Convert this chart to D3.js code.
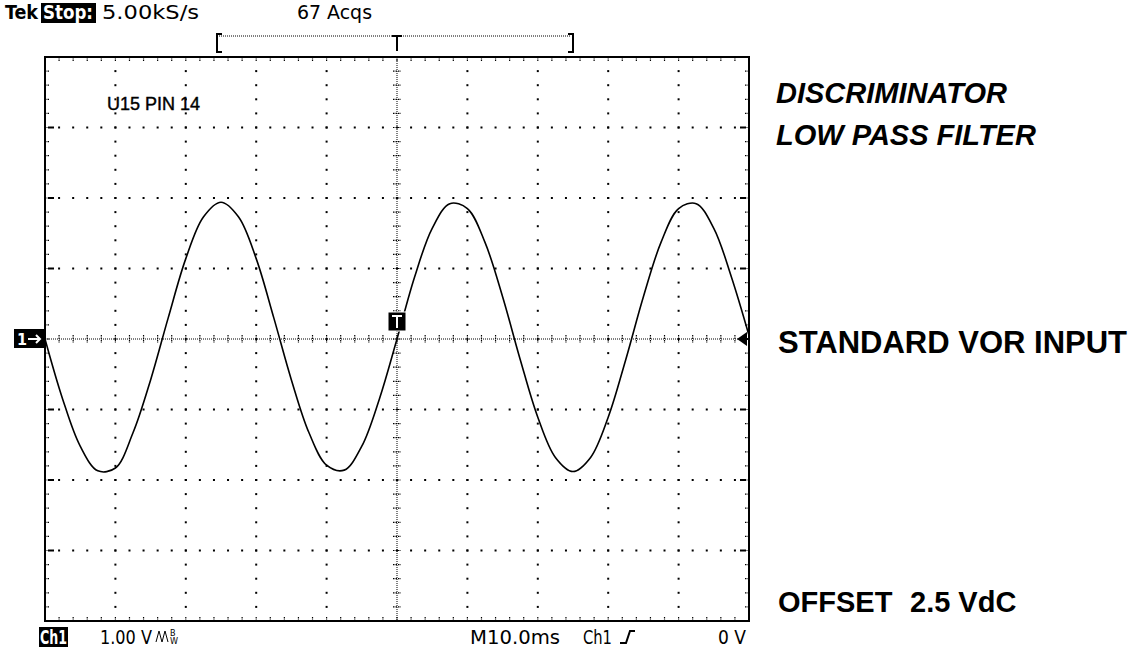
<!DOCTYPE html>
<html>
<head>
<meta charset="utf-8">
<script src="https://cdn.jsdelivr.net/npm/d3@7"></script>
<style>
  html, body { margin: 0; padding: 0; background: #fff; }
  svg { display: block; }
</style>
</head>
<body>
<svg id="chart" width="1138" height="647"></svg>
<script>
// ---- data ----
const timeMs = [-50,-47.5,-45,-42.5,-40,-37.5,-35,-32.5,-30,-27.5,-25,-22.5,-20,-17.5,-15,-12.5,-10,-7.5,-5,-2.5,
                0,2.5,5,7.5,10,12.5,15,17.5,20,22.5,25,27.5,30,32.5,35,37.5,40,42.5,45,47.5,50];
const volts  = [0.00,-0.85,-1.52,-1.87,-1.83,-1.33,-0.58,0.30,1.14,1.73,1.94,1.73,1.14,0.30,-0.58,-1.33,-1.79,-1.86,-1.52,-0.85,
                0.00,0.88,1.57,1.92,1.85,1.37,0.60,-0.29,-1.11,-1.68,-1.88,-1.68,-1.11,-0.29,0.60,1.37,1.85,1.92,1.57,0.88,0.05];
const xDivisions = [-50,-40,-30,-20,-10,0,10,20,30,40,50];   // ms, 10 ms/div
const yDivisions = [-4,-3,-2,-1,0,1,2,3,4];                   // V, 1 V/div
const headerLeft = ["Tek", "Stop:", "5.00kS/s"];
const headerMid = "67 Acqs";
const footerLabels = ["Ch1", "1.00 V", "M10.0ms", "Ch1", "0 V"];
const probeLabel = "U15 PIN 14";
const titleLines = ["DISCRIMINATOR", "LOW PASS FILTER"];
const inputLabel = "STANDARD VOR INPUT";
const offsetLabel = ["OFFSET", "2.5 VdC"];

// ---- layout ----
const svg = d3.select("#chart");
const L = 45, R = 749, T = 57, B = 621;
const x = d3.scaleLinear().domain([-50, 50]).range([L, R]);
const y = d3.scaleLinear().domain([-4, 4]).range([B, T]);
const scopeFont = "'DejaVu Sans Condensed','DejaVu Sans','Liberation Sans Narrow',sans-serif";
const boldFont = "'Liberation Sans',Arial,Helvetica,sans-serif";

const minorX = d3.range(-50, 50.001, 2);
const minorY = d3.range(-4, 4.001, 0.2);

function scopeText(tx, ty, str, len, opts = {}) {
  return svg.append("text").attr("x", tx).attr("y", ty).attr("font-family", scopeFont)
    .attr("font-size", opts.size || 19).attr("fill", opts.fill || "#000")
    .attr("font-weight", opts.weight || "normal")
    .attr("textLength", len).attr("lengthAdjust", "spacingAndGlyphs").text(str);
}

const grid = svg.append("g");
xDivisions.slice(1, -1).forEach(v => {
  if (v === 0) return;
  grid.selectAll(null).data(minorY).enter().append("rect")
    .attr("x", x(v) - 1).attr("y", d => y(d) - 1).attr("width", 2).attr("height", 2).attr("fill", "#000");
});
yDivisions.slice(1, -1).forEach(v => {
  if (v === 0) return;
  grid.selectAll(null).data(minorX).enter().append("rect")
    .attr("x", d => x(d) - 1).attr("y", y(v) - 1).attr("width", 2).attr("height", 2).attr("fill", "#000");
  grid.append("rect").attr("x", L + 3).attr("y", y(v) - 1).attr("width", 6).attr("height", 2).attr("fill", "#000");
  grid.append("rect").attr("x", R - 9).attr("y", y(v) - 1).attr("width", 6).attr("height", 2).attr("fill", "#000");
});

// center crosshair
grid.append("line").attr("x1", L).attr("x2", R).attr("y1", y(0)).attr("y2", y(0))
  .attr("stroke", "#000").attr("stroke-width", 1).attr("stroke-dasharray", "1,1");
grid.append("line").attr("x1", x(0)).attr("x2", x(0)).attr("y1", T).attr("y2", B)
  .attr("stroke", "#000").attr("stroke-width", 1).attr("stroke-dasharray", "1,1");
grid.selectAll(null).data(minorX).enter().append("line")
  .attr("x1", d => x(d)).attr("x2", d => x(d)).attr("y1", y(0) - 4).attr("y2", y(0) + 4)
  .attr("stroke", "#000").attr("stroke-width", 1.2).attr("stroke-dasharray", "1.5,1");
grid.selectAll(null).data(minorY).enter().append("line")
  .attr("y1", d => y(d)).attr("y2", d => y(d)).attr("x1", x(0) - 4).attr("x2", x(0) + 4)
  .attr("stroke", "#000").attr("stroke-width", 1.2).attr("stroke-dasharray", "1.5,1");

// border ticks
grid.selectAll(null).data(minorX).enter().append("line")
  .attr("x1", d => x(d)).attr("x2", d => x(d)).attr("y1", T).attr("y2", T + 5)
  .attr("stroke", "#000").attr("stroke-width", 1.2).attr("stroke-dasharray", "1.5,1");
grid.selectAll(null).data(minorX).enter().append("line")
  .attr("x1", d => x(d)).attr("x2", d => x(d)).attr("y1", B).attr("y2", B - 5)
  .attr("stroke", "#000").attr("stroke-width", 1.2).attr("stroke-dasharray", "1.5,1");
grid.selectAll(null).data(minorY).enter().append("line")
  .attr("y1", d => y(d)).attr("y2", d => y(d)).attr("x1", L).attr("x2", L + 5)
  .attr("stroke", "#000").attr("stroke-width", 1.2).attr("stroke-dasharray", "1.5,1");
grid.selectAll(null).data(minorY).enter().append("line")
  .attr("y1", d => y(d)).attr("y2", d => y(d)).attr("x1", R).attr("x2", R - 5)
  .attr("stroke", "#000").attr("stroke-width", 1.2).attr("stroke-dasharray", "1.5,1");

// frame
svg.append("rect").attr("x", L).attr("y", T).attr("width", R - L).attr("height", B - T)
  .attr("fill", "none").attr("stroke", "#000").attr("stroke-width", 2);

// waveform
const pts = timeMs.map((t, i) => [t, volts[i]]);
svg.append("path").datum(pts)
  .attr("fill", "none").attr("stroke", "#000").attr("stroke-width", 1.6)
  .attr("d", d3.line().x(d => x(d[0])).y(d => y(d[1])).curve(d3.curveCatmullRom.alpha(0.5)));

// ---- header ----
scopeText(5, 19, headerLeft[0], 33, { weight: "bold" });
svg.append("rect").attr("x", 41).attr("y", 3).attr("width", 55).attr("height", 20).attr("fill", "#000");
scopeText(43, 19, headerLeft[1], 50, { weight: "bold", fill: "#fff" });
scopeText(102, 19, headerLeft[2], 97);
scopeText(297, 19, headerMid, 75);

// record bracket
const bx0 = 217, bx1 = 573, by = 36;
svg.append("path").attr("d", `M${bx0 + 5},${by - 2} H${bx0} V${by + 16} H${bx0 + 5}`)
  .attr("fill", "none").attr("stroke", "#000").attr("stroke-width", 2);
svg.append("path").attr("d", `M${bx1 - 5},${by - 2} H${bx1} V${by + 16} H${bx1 - 5}`)
  .attr("fill", "none").attr("stroke", "#000").attr("stroke-width", 2);
svg.append("line").attr("x1", bx0 + 2).attr("x2", bx1 - 2).attr("y1", by).attr("y2", by)
  .attr("stroke", "#000").attr("stroke-width", 1).attr("stroke-dasharray", "1,1");
svg.append("path").attr("d", `M${x(0) - 5},${by} H${x(0) + 5} M${x(0)},${by} V${by + 15}`)
  .attr("stroke", "#000").attr("stroke-width", 2);

// ---- footer ----
const fy = 644;
svg.append("rect").attr("x", 39).attr("y", 627).attr("width", 29).attr("height", 20).attr("fill", "#000");
scopeText(40, fy, footerLabels[0], 27, { weight: "bold", fill: "#fff" });
scopeText(100, fy, footerLabels[1], 52);
svg.append("path").attr("d", "M156,642 L159,631 L162,642 L165,631 L168,642")
  .attr("fill", "none").attr("stroke", "#000").attr("stroke-width", 1);
svg.append("text").attr("x", 170).attr("y", 636).attr("font-family", scopeFont).attr("font-size", 9).text("B");
svg.append("text").attr("x", 170).attr("y", 644).attr("font-family", scopeFont).attr("font-size", 9).text("W");
scopeText(470, fy, footerLabels[2], 90);
scopeText(583, fy, footerLabels[3], 29);
svg.append("path").attr("d", "M620,643 H626 L630,631 H635")
  .attr("fill", "none").attr("stroke", "#000").attr("stroke-width", 2);
scopeText(718, fy, footerLabels[4], 28);

// ---- markers ----
svg.append("rect").attr("x", 14).attr("y", y(0) - 10).attr("width", 31).attr("height", 19).attr("fill", "#000");
svg.append("text").attr("x", 17).attr("y", y(0) + 6).attr("font-family", scopeFont).attr("font-size", 16)
  .attr("font-weight", "bold").attr("fill", "#fff").text("1");
svg.append("path").attr("d", `M28,${y(0)} H40 M36,${y(0) - 4} L40,${y(0)} L36,${y(0) + 4}`)
  .attr("fill", "none").attr("stroke", "#fff").attr("stroke-width", 2);
svg.append("rect").attr("x", x(0) - 9).attr("y", y(0) - 27).attr("width", 18).attr("height", 19)
  .attr("fill", "#000").attr("stroke", "#fff").attr("stroke-width", 1);
svg.append("path").attr("d", `M${x(0) - 5},${y(0) - 23} H${x(0) + 5} M${x(0)},${y(0) - 23} V${y(0) - 11}`)
  .attr("stroke", "#fff").attr("stroke-width", 2);
svg.append("path").attr("d", `M${R - 12},${y(0)} L${R - 2},${y(0) - 7} L${R - 2},${y(0) + 7} Z`).attr("fill", "#000");
svg.append("line").attr("x1", R - 4).attr("x2", R).attr("y1", y(0)).attr("y2", y(0)).attr("stroke", "#000").attr("stroke-width", 2);

// ---- annotations ----
svg.append("text").attr("x", 107).attr("y", 110).attr("font-family", boldFont).attr("font-size", 18)
  .attr("stroke", "#000").attr("stroke-width", 0.4).text(probeLabel);
titleLines.forEach((t, i) => {
  svg.append("text").attr("x", 776).attr("y", 103 + i * 42).attr("font-family", boldFont).attr("font-size", 29)
    .attr("font-weight", "bold").attr("font-style", "italic").text(t);
});
svg.append("text").attr("x", 778).attr("y", 353).attr("font-family", boldFont).attr("font-size", 31)
  .attr("font-weight", "bold").text(inputLabel);
svg.append("text").attr("x", 778).attr("y", 612).attr("font-family", boldFont).attr("font-size", 29)
  .attr("font-weight", "bold").text(offsetLabel[0]);
svg.append("text").attr("x", 910).attr("y", 612).attr("font-family", boldFont).attr("font-size", 29)
  .attr("font-weight", "bold").text(offsetLabel[1]);
</script>
</body>
</html>
